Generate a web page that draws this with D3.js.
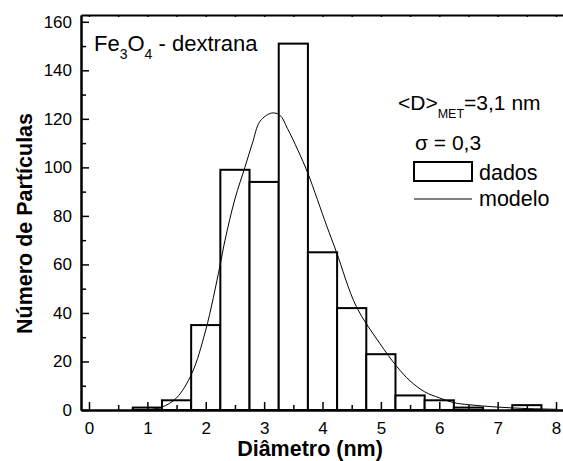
<!DOCTYPE html>
<html>
<head>
<meta charset="utf-8">
<script src="https://cdn.jsdelivr.net/npm/d3@7"></script>
<style>
  body { margin: 0; background: #fff; }
  svg text { font-family: Arial, "Liberation Sans", sans-serif; fill: #000; }
</style>
</head>
<body>
<div id="chart"></div>
<script>
// histogram bins (centre of each 0.5 nm bin) and counts
var binCenters = [1, 1.5, 2, 2.5, 3, 3.5, 4, 4.5, 5, 5.5, 6, 6.5, 7, 7.5];
var counts = [1, 4, 35, 99, 94, 151, 65, 42, 23, 6, 4, 1, 0, 2];
var binWidth = 0.5;

// fitted curve ("modelo")
var modelX = [1.0, 1.25, 1.5, 1.76, 2.0, 2.24, 2.33, 2.5, 2.67, 2.8, 2.93, 3.13, 3.27, 3.4, 3.58, 3.75, 4.07, 4.24, 4.58, 4.98, 5.27, 5.5, 5.75, 6.0, 6.25, 6.5, 7.0, 7.5, 8.0];
var modelY = [0, 1.2, 5, 15, 33, 59, 70, 87, 100, 110, 119, 122.4, 121.5, 116, 107, 97.5, 76, 65, 42.6, 27.5, 18, 12, 7.5, 5, 3, 2.2, 1.2, 0.6, 0.3];

var xTicks = [0, 1, 2, 3, 4, 5, 6, 7, 8];
var xMinor = [0.5, 1.5, 2.5, 3.5, 4.5, 5.5, 6.5, 7.5];
var yTicks = [0, 20, 40, 60, 80, 100, 120, 140, 160];
var yMinor = [10, 30, 50, 70, 90, 110, 130, 150];

var width = 563, height = 461;
var svg = d3.select("#chart").append("svg")
    .attr("width", width)
    .attr("height", height);

var x = d3.scaleLinear().domain([-0.137, 8.2]).range([81, 567.7]);
var y = d3.scaleLinear().domain([0, 162.8]).range([410, 15]);

// bars
svg.append("g").selectAll("rect")
    .data(binCenters)
    .enter()
    .append("rect")
        .attr("x", function(d) { return x(d - binWidth / 2); })
        .attr("y", function(d, i) { return y(counts[i]); })
        .attr("width", function(d) { return x(d + binWidth / 2) - x(d - binWidth / 2); })
        .attr("height", function(d, i) { return y(0) - y(counts[i]); })
        .attr("fill", "#fff")
        .attr("stroke", "#000")
        .attr("stroke-width", 2);

// model curve
var line = d3.line()
    .x(function(d, i) { return x(modelX[i]); })
    .y(function(d) { return y(d); })
    .curve(d3.curveCatmullRom);

svg.append("path")
    .attr("d", line(modelY))
    .attr("fill", "none")
    .attr("stroke", "#000")
    .attr("stroke-width", 1);

// axes
function styleAxis(g) {
    g.select(".domain").attr("stroke-width", 2);
    g.selectAll(".tick line").attr("stroke-width", 1.5);
    g.selectAll(".tick text").style("font-size", "17px").attr("fill", "#000");
}

svg.append("g")
    .attr("transform", "translate(0," + y(0) + ")")
    .call(d3.axisBottom(x).tickValues(xTicks).tickFormat(d3.format("d"))
        .tickSizeInner(-8).tickSizeOuter(0).tickPadding(12))
    .call(styleAxis);

svg.append("g")
    .attr("transform", "translate(0," + y(0) + ")")
    .call(d3.axisBottom(x).tickValues(xMinor).tickFormat("")
        .tickSizeInner(-5).tickSizeOuter(0))
    .call(styleAxis);

svg.append("g")
    .attr("transform", "translate(0," + y.range()[1] + ")")
    .call(d3.axisTop(x).tickValues(xTicks.concat(xMinor)).tickFormat("")
        .tickSizeInner(-2).tickSizeOuter(0))
    .call(styleAxis);

svg.append("g")
    .attr("transform", "translate(" + x.range()[0] + ",0)")
    .call(d3.axisLeft(y).tickValues(yTicks).tickFormat(d3.format("d"))
        .tickSizeInner(-8).tickSizeOuter(0).tickPadding(9))
    .call(styleAxis);

svg.append("g")
    .attr("transform", "translate(" + x.range()[0] + ",0)")
    .call(d3.axisLeft(y).tickValues(yMinor).tickFormat("")
        .tickSizeInner(-5).tickSizeOuter(0))
    .call(styleAxis);

// axis titles
svg.append("text")
    .attr("x", 310)
    .attr("y", 456)
    .attr("text-anchor", "middle")
    .style("font-size", "21.5px")
    .style("font-weight", "bold")
    .text("Diâmetro (nm)");

svg.append("text")
    .attr("transform", "translate(32,223.5) rotate(-90)")
    .attr("text-anchor", "middle")
    .style("font-size", "21.5px")
    .style("font-weight", "bold")
    .text("Número de Partículas");

// sample label
var title = svg.append("text")
    .attr("x", 94)
    .attr("y", 50.7)
    .style("font-size", "22px");
title.append("tspan").text("Fe");
title.append("tspan").attr("dy", 8.6).style("font-size", "14px").text("3");
title.append("tspan").attr("dy", -8.6).text("O");
title.append("tspan").attr("dy", 8.6).style("font-size", "14px").text("4");
title.append("tspan").attr("dy", -8.6).text(" - dextrana");

// legend
var d = svg.append("text")
    .attr("x", 398)
    .attr("y", 110)
    .style("font-size", "21px");
d.append("tspan").text("<D>");
d.append("tspan").attr("dy", 8.3).style("font-size", "12.5px").text("MET");
d.append("tspan").attr("dy", -8.3).text("=3,1 nm");

svg.append("text")
    .attr("x", 415)
    .attr("y", 150)
    .style("font-size", "21px")
    .text("σ = 0,3");

svg.append("rect")
    .attr("x", 414).attr("y", 162)
    .attr("width", 58).attr("height", 19)
    .attr("fill", "#fff")
    .attr("stroke", "#000")
    .attr("stroke-width", 2);
svg.append("text")
    .attr("x", 479).attr("y", 180)
    .style("font-size", "21.5px")
    .text("dados");

svg.append("line")
    .attr("x1", 414).attr("x2", 472)
    .attr("y1", 199).attr("y2", 199)
    .attr("stroke", "#000")
    .attr("stroke-width", 1);
svg.append("text")
    .attr("x", 479).attr("y", 206)
    .style("font-size", "21.5px")
    .text("modelo");
</script>
</body>
</html>
